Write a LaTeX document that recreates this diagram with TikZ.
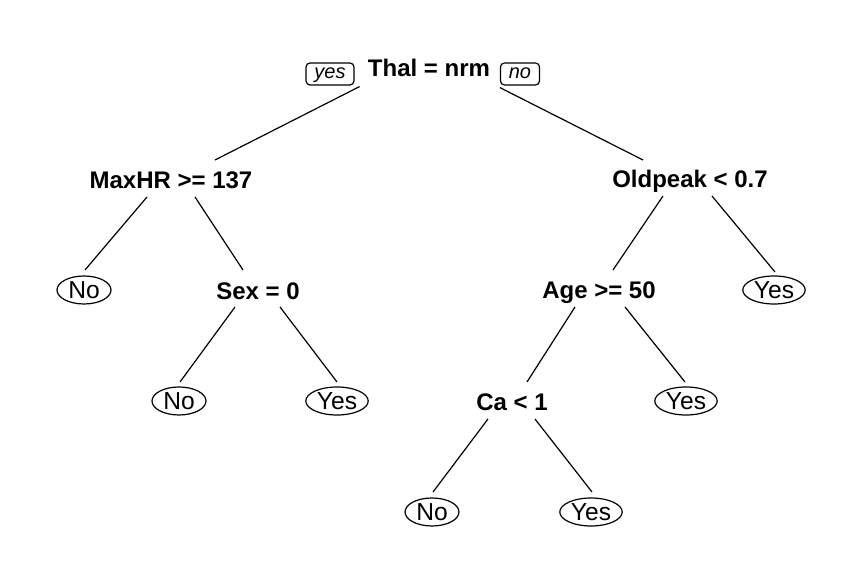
\documentclass[tikz,border=0pt]{standalone}
\usepackage{fontspec}
\setmainfont{Liberation Sans}
\usetikzlibrary{calc,shapes.geometric}

\tikzset{
  split/.style={font=\fontsize{12}{14}\selectfont\bfseries, inner sep=0pt, text height=8.6pt, text depth=0pt},
  leaf/.style={ellipse, draw, line width=0.6pt, font=\fontsize{12.3}{14}\selectfont, inner xsep=1pt, inner ysep=0pt,
    text height=8.8pt, text depth=0pt, minimum width=27pt, minimum height=14pt},
  tag/.style={draw, rounded corners=2pt, line width=0.6pt, font=\fontsize{10}{12}\selectfont\itshape,
    inner xsep=4.2pt, inner ysep=0pt, text height=6.2pt, text depth=1.5pt, minimum height=11pt},
  branch/.style={line width=0.6pt},
}

\begin{document}
\begin{tikzpicture}[x=0.5pt, y=-0.5pt]
  \useasboundingbox (0,0) rectangle (864,576);

  % root
  \node[split] (thal) at (429,68) {Thal = nrm};
  \node[tag] (yes) at (330,74) {yes};
  \node[tag] (no) at (520,74) {no};

  % level 1
  \node[split] (maxhr) at (171,180) {MaxHR >= 137};
  \node[split] (oldpeak) at (690,179) {Oldpeak < 0.7};

  % level 2
  \node[leaf] (noA) at (84,290) {No};
  \node[split] (sex) at (258,291) {Sex = 0};
  \node[split] (age) at (599,290) {Age >= 50};
  \node[leaf] (yesA) at (774,290) {Yes};

  % level 3
  \node[leaf] (noB) at (179,401) {No};
  \node[leaf] (yesB) at (337,401) {Yes};
  \node[split] (ca) at (512,402) {Ca < 1};
  \node[leaf] (yesC) at (686,401) {Yes};

  % level 4
  \node[leaf] (noC) at (432,512) {No};
  \node[leaf] (yesD) at (591,512) {Yes};

  % branches
  \draw[branch] ($(yes.south east)+(5,1)$) -- ($(maxhr)+(44,-20)$);
  \draw[branch] ($(no.south west)+(0,2)$) -- ($(oldpeak)+(-47,-19)$);
  \draw[branch] ($(maxhr)+(-24,17)$) -- ($(noA)+(1,-20)$);
  \draw[branch] ($(maxhr)+(24,17)$) -- ($(sex)+(-15,-21)$);
  \draw[branch] ($(oldpeak)+(-27,17)$) -- ($(age)+(14,-20)$);
  \draw[branch] ($(oldpeak)+(22,17)$) -- ($(yesA)+(1,-18)$);
  \draw[branch] ($(sex)+(-23,16)$) -- ($(noB)+(1,-19)$);
  \draw[branch] ($(sex)+(22,16)$) -- ($(yesB)+(0,-19)$);
  \draw[branch] ($(age)+(-24,17)$) -- ($(ca)+(15,-20)$);
  \draw[branch] ($(age)+(26,17)$) -- ($(yesC)+(-1,-19)$);
  \draw[branch] ($(ca)+(-24,17)$) -- ($(noC)+(1,-20)$);
  \draw[branch] ($(ca)+(23,17)$) -- ($(yesD)+(1,-20)$);
\end{tikzpicture}
\end{document}
